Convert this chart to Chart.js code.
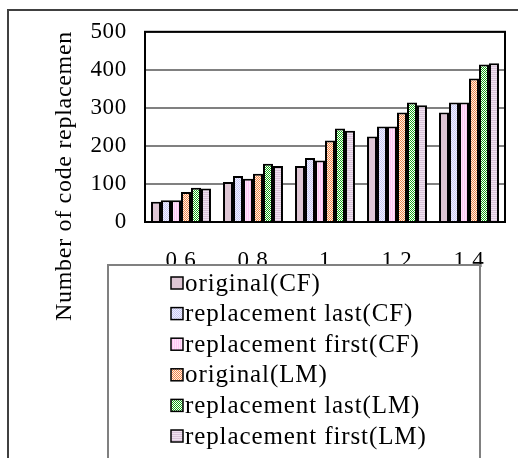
<!DOCTYPE html>
<html>
<head>
<meta charset="utf-8">
<script src="https://cdn.jsdelivr.net/npm/chart.js@4.4.1/dist/chart.umd.min.js"></script>
<style>
  html, body { margin: 0; padding: 0; background: #fff; }
  #wrap { width: 518px; height: 458px; }
</style>
</head>
<body>
<div id="wrap"><canvas id="c" width="518" height="458"></canvas></div>
<script>
// Categories along the x axis
const categories = ['0.6', '0.8', '1', '1.2', '1.4'];

// Series values (number of code replacements)
const originalCF         = [53, 105, 147, 225, 288];
const replacementLastCF  = [57, 121, 168, 251, 314];
const replacementFirstCF = [57, 114, 162, 251, 314];
const originalLM         = [79, 127, 214, 288, 377];
const replacementLastLM  = [90, 153, 246, 314, 414];
const replacementFirstLM = [88, 147, 240, 307, 417];

const seriesNames = [
  'original(CF)', 'replacement last(CF)', 'replacement first(CF)',
  'original(LM)', 'replacement last(LM)', 'replacement first(LM)'
];

const yTicks = [0, 100, 200, 300, 400, 500];
const yTitle = 'Number of code replacemen';

const SERIF = '"Liberation Serif", "Times New Roman", serif';

// Small tiled fills for the bars
function makePattern(draw, size) {
  const cv = document.createElement('canvas');
  cv.width = size; cv.height = size;
  const g = cv.getContext('2d');
  draw(g, size);
  return g.createPattern(cv, 'repeat');
}
function checker(bg, fg) {
  return makePattern((g, s) => {
    g.fillStyle = bg; g.fillRect(0, 0, s, s);
    g.fillStyle = fg; g.fillRect(0, 0, 1, 1); g.fillRect(1, 1, 1, 1);
  }, 2);
}
function hstripes(bg, fg) {
  return makePattern((g, s) => {
    g.fillStyle = bg; g.fillRect(0, 0, s, s);
    g.fillStyle = fg; g.fillRect(0, 0, s, 1);
  }, 2);
}
function vstripes(bg, fg) {
  return makePattern((g, s) => {
    g.fillStyle = bg; g.fillRect(0, 0, s, s);
    g.fillStyle = fg; g.fillRect(0, 0, 1, s);
  }, 2);
}

const fills = [
  '#DEC6D4',
  checker('#F2F2FF', '#C6C6F2'),
  vstripes('#FFE2FC', '#FFC8F4'),
  checker('#FFF2E6', '#F0844A'),
  checker('#FFFFFF', '#18A418'),
  hstripes('#F0E2F0', '#D8C2D8')
];

const seriesValues = [originalCF, replacementLastCF, replacementFirstCF,
                      originalLM, replacementLastLM, replacementFirstLM];

const datasets = seriesValues.map((vals, i) => ({
  label: seriesNames[i],
  data: vals,
  backgroundColor: fills[i],
  borderColor: '#000',
  borderWidth: { top: 2, left: 2, right: 2, bottom: 0 },
  borderSkipped: 'bottom',
  categoryPercentage: 0.833,
  barPercentage: 1.0
}));

// Outer frame, plot frame, rotated axis title and the boxed legend
const decorations = {
  id: 'decorations',
  beforeDraw(chart) {
    chart.ctx.letterSpacing = '0.7px';
  },
  beforeDatasetsDraw(chart) {
    const { ctx, chartArea: a } = chart;
    ctx.save();
    ctx.strokeStyle = '#000';
    ctx.lineWidth = 2;
    ctx.strokeRect(a.left, a.top, a.right - a.left, a.bottom - a.top);
    ctx.restore();
  },
  afterDraw(chart) {
    const ctx = chart.ctx;
    ctx.save();
    ctx.letterSpacing = '0.7px';

    // outer frame
    ctx.strokeStyle = '#404040';
    ctx.lineWidth = 2;
    ctx.strokeRect(8, 10, 700, 700);

    // y axis title
    ctx.save();
    ctx.translate(65, 176);
    ctx.rotate(-Math.PI / 2);
    ctx.fillStyle = '#000';
    ctx.font = '24px ' + SERIF;
    ctx.textAlign = 'center';
    ctx.textBaseline = 'middle';
    ctx.fillText(yTitle, 0, 0);
    ctx.restore();

    // legend box
    const lx = 108, ly = 265, lr = 480;
    ctx.fillStyle = '#fff';
    ctx.fillRect(lx, ly, lr - lx, 300);
    ctx.strokeStyle = '#808080';
    ctx.lineWidth = 2;
    ctx.strokeRect(lx, ly, lr - lx, 300);

    ctx.letterSpacing = '0.9px';
    ctx.font = '25px ' + SERIF;
    ctx.textAlign = 'left';
    ctx.textBaseline = 'middle';
    chart.data.datasets.forEach((ds, i) => {
      const cy = 283 + i * 30.6;
      ctx.fillStyle = ds.backgroundColor;
      ctx.fillRect(171, cy - 6, 12, 12);
      ctx.strokeStyle = '#000';
      ctx.lineWidth = 1.5;
      ctx.strokeRect(171, cy - 6, 12, 12);
      ctx.fillStyle = '#000';
      ctx.fillText(ds.label, 185, cy + 1);
    });
    ctx.restore();
  }
};

new Chart(document.getElementById('c'), {
  type: 'bar',
  data: { labels: categories, datasets },
  options: {
    responsive: false,
    animation: false,
    devicePixelRatio: 1,
    layout: { padding: { left: 0, right: 13, top: 30, bottom: 0 } },
    plugins: { legend: { display: false }, tooltip: { enabled: false } },
    scales: {
      x: {
        grid: { display: false, drawTicks: false },
        border: { display: false },
        ticks: { color: '#000', font: { family: SERIF, size: 23 }, padding: 25, maxRotation: 0 },
        afterFit(scale) { scale.height = 236; }
      },
      y: {
        min: 0, max: 500,
        afterBuildTicks(scale) { scale.ticks = yTicks.map(v => ({ value: v })); },
        grid: { color: '#808080', lineWidth: 2, drawTicks: false },
        border: { display: false },
        ticks: { color: '#000', font: { family: SERIF, size: 23 }, padding: 18 },
        afterFit(scale) { scale.width = 145; }
      }
    }
  },
  plugins: [decorations]
});
</script>
</body>
</html>
